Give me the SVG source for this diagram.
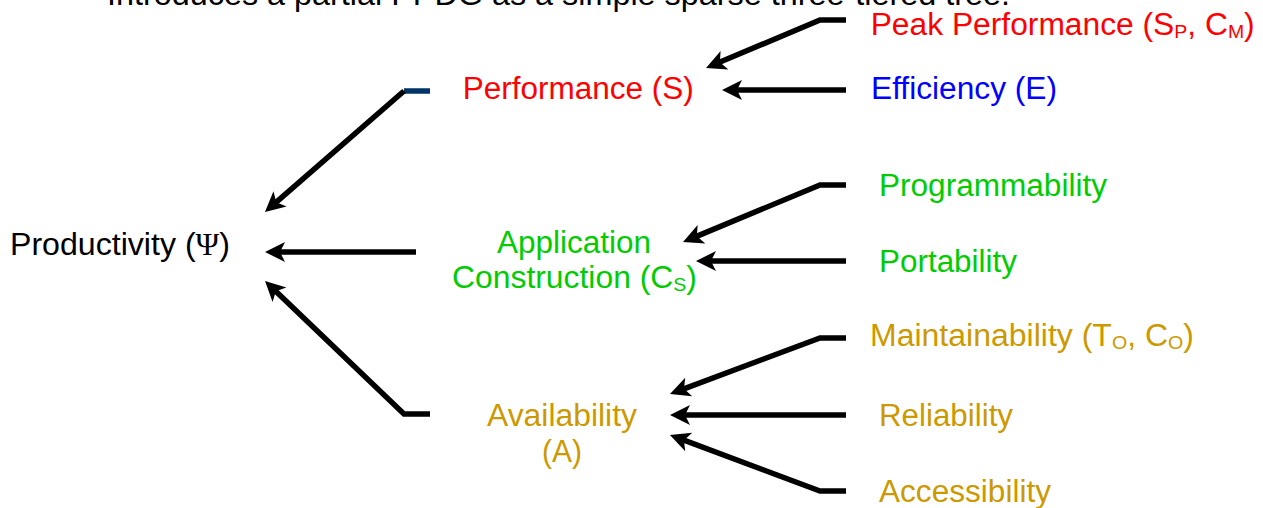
<svg xmlns="http://www.w3.org/2000/svg" width="1263" height="508" viewBox="0 0 1263 508">
<style>
  text { font-family: "Liberation Sans", Arial, sans-serif; font-size: 31px; }
  .sub { font-size: 19px; }
  .sym { font-family: "Liberation Serif", "Times New Roman", serif; }
  .red { fill: #FF0000; }
  .blue { fill: #0000FF; }
  .green { fill: #00CC00; }
  .gold { fill: #CC9900; }
  .black { fill: #000000; }
  .conn { fill: none; stroke: #000000; stroke-width: 5.5; stroke-linejoin: miter; }
  .stub { fill: none; stroke: #003366; stroke-width: 5.5; }
</style>
<defs>
  <marker id="arrow" markerUnits="userSpaceOnUse" markerWidth="20" markerHeight="20" refX="8" refY="10" orient="auto" overflow="visible">
    <path d="M0,0 L20,10 L0,20 L5,10 Z" fill="#000000"/>
  </marker>
</defs>
<rect width="1263" height="508" fill="#FFFFFF"/>

<g id="caption">
  <text x="107" y="5" class="black" textLength="903" lengthAdjust="spacingAndGlyphs">Introduces a partial PPDG as a simple sparse three-tiered tree.</text>
</g>

<g id="connectors">
  <path class="conn" d="M846,20 L820,20 L717.1,63.3" marker-end="url(#arrow)"/>
  <path class="conn" d="M846,90 L734,90" marker-end="url(#arrow)"/>
  <path class="stub" d="M430,91 L404,91"/>
  <path class="conn" d="M404,91 L274,204.1" marker-end="url(#arrow)"/>
  <path class="conn" d="M416,252 L277,252" marker-end="url(#arrow)"/>
  <path class="conn" d="M430,414 L404,414 L273.7,289.3" marker-end="url(#arrow)"/>
  <path class="conn" d="M846,185 L820,185 L694.1,237.4" marker-end="url(#arrow)"/>
  <path class="conn" d="M846,261 L708,261" marker-end="url(#arrow)"/>
  <path class="conn" d="M846,338 L820,338 L681.2,389.8" marker-end="url(#arrow)"/>
  <path class="conn" d="M846,415 L682,415" marker-end="url(#arrow)"/>
  <path class="conn" d="M846,491 L820,491 L681.2,439.2" marker-end="url(#arrow)"/>
</g>

<g id="node-productivity">
  <text x="10" y="255" class="black" textLength="220" lengthAdjust="spacingAndGlyphs">Productivity (<tspan class="sym">Ψ</tspan>)</text>
</g>

<g id="node-performance">
  <text x="462.7" y="99" class="red" textLength="231" lengthAdjust="spacingAndGlyphs">Performance (S)</text>
</g>

<g id="node-application-construction">
  <text x="497" y="253" class="green" textLength="154" lengthAdjust="spacingAndGlyphs">Application</text>
  <text x="452" y="288" class="green" textLength="245" lengthAdjust="spacingAndGlyphs">Construction (C<tspan class="sub" dy="3">S</tspan><tspan dy="-3">)</tspan></text>
</g>

<g id="node-availability">
  <text x="487" y="426" class="gold" textLength="150" lengthAdjust="spacingAndGlyphs">Availability</text>
  <text x="542" y="462" class="gold" textLength="40" lengthAdjust="spacingAndGlyphs">(A)</text>
</g>

<g id="node-peak-performance">
  <text x="870.7" y="35" class="red" textLength="384" lengthAdjust="spacingAndGlyphs">Peak Performance (S<tspan class="sub" dy="3">P</tspan><tspan dy="-3">, C</tspan><tspan class="sub" dy="3">M</tspan><tspan dy="-3">)</tspan></text>
</g>

<g id="node-efficiency">
  <text x="871" y="99" class="blue" textLength="186" lengthAdjust="spacingAndGlyphs">Efficiency (E)</text>
</g>

<g id="node-programmability">
  <text x="879" y="196" class="green" textLength="228" lengthAdjust="spacingAndGlyphs">Programmability</text>
</g>

<g id="node-portability">
  <text x="879" y="272" class="green" textLength="138" lengthAdjust="spacingAndGlyphs">Portability</text>
</g>

<g id="node-maintainability">
  <text x="870" y="346" class="gold" textLength="324" lengthAdjust="spacingAndGlyphs">Maintainability (T<tspan class="sub" dy="3">O</tspan><tspan dy="-3">, C</tspan><tspan class="sub" dy="3">O</tspan><tspan dy="-3">)</tspan></text>
</g>

<g id="node-reliability">
  <text x="879" y="426" class="gold" textLength="134" lengthAdjust="spacingAndGlyphs">Reliability</text>
</g>

<g id="node-accessibility">
  <text x="879" y="502" class="gold" textLength="172" lengthAdjust="spacingAndGlyphs">Accessibility</text>
</g>
</svg>
